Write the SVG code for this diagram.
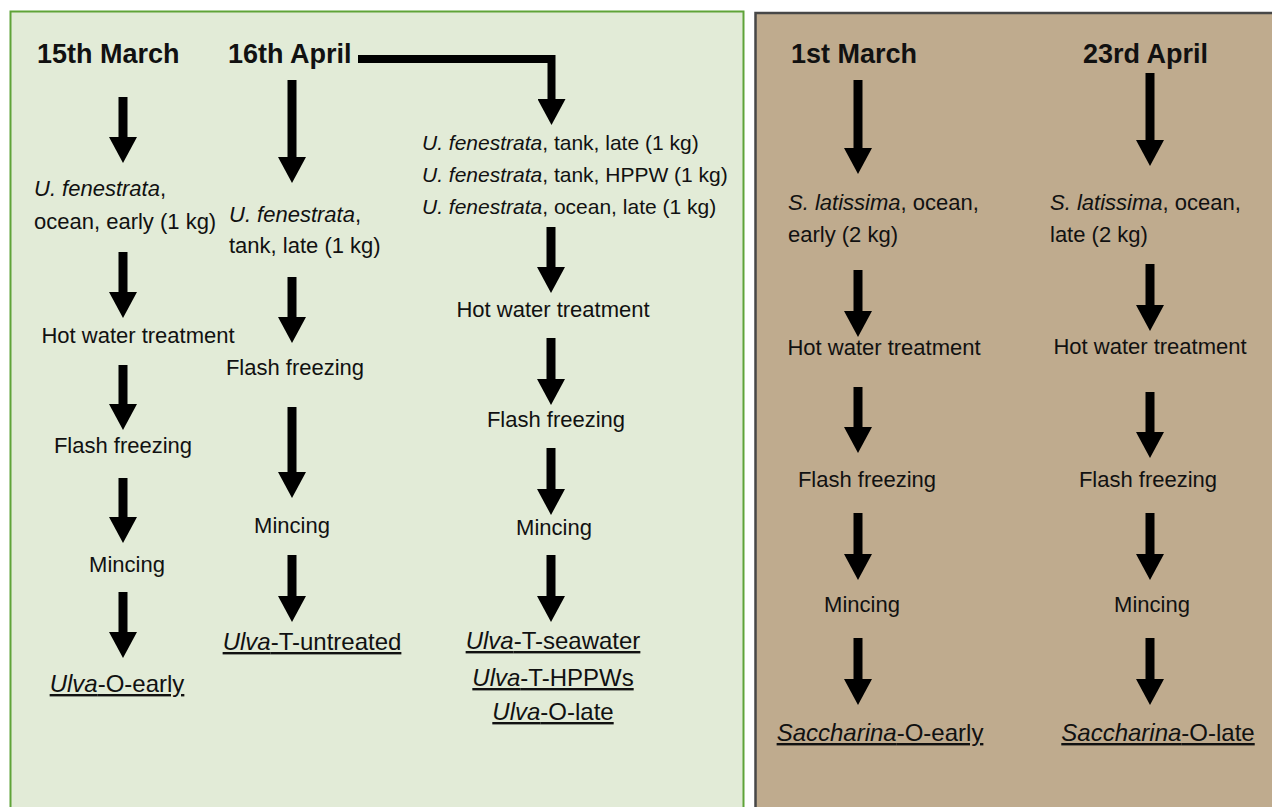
<svg xmlns="http://www.w3.org/2000/svg" width="1272" height="807" viewBox="0 0 1272 807">
<style>
text{font-family:"Liberation Sans",Arial,sans-serif;fill:#111}
.h{font-size:27px;font-weight:bold}
.t{font-size:22px}
.s{font-size:21px}
.r{font-size:24px;text-decoration:underline}
.m{text-anchor:middle}
.i{font-style:italic}
.arr{stroke:#000;stroke-width:9;fill:none;marker-end:url(#head)}
</style>
<defs>
<marker id="head" markerUnits="userSpaceOnUse" viewBox="0 0 26 28" markerWidth="26" markerHeight="28" refX="0" refY="14" orient="auto">
<path d="M0,0 L26,14 L0,28 Z" fill="#000"/>
</marker>
</defs>
<rect width="1272" height="807" fill="#ffffff"/>
<g id="panel-ulva"><rect x="10.5" y="11.5" width="733" height="820" fill="#e2ebd7" stroke="#5fa338" stroke-width="2"/></g>
<g id="panel-saccharina"><rect x="755.5" y="13" width="530" height="820" fill="#bfab8e" stroke="#474747" stroke-width="2.5"/></g>

<g id="connectors">
<line class="arr" x1="123" y1="97" x2="123" y2="137"/>
<line class="arr" x1="123" y1="252" x2="123" y2="292"/>
<line class="arr" x1="123" y1="365" x2="123" y2="404"/>
<line class="arr" x1="123" y1="478" x2="123" y2="517"/>
<line class="arr" x1="123" y1="592" x2="123" y2="632"/>

<line class="arr" x1="292" y1="80" x2="292" y2="157"/>
<line class="arr" x1="292" y1="277" x2="292" y2="317"/>
<line class="arr" x1="292" y1="407" x2="292" y2="472"/>
<line class="arr" x1="292" y1="555" x2="292" y2="596"/>

<path class="arr" d="M358,59 H551.5 V99" stroke-linejoin="miter" style="stroke-width:8"/>
<line class="arr" x1="551" y1="227" x2="551" y2="267"/>
<line class="arr" x1="551" y1="338" x2="551" y2="379"/>
<line class="arr" x1="551" y1="448" x2="551" y2="489"/>
<line class="arr" x1="551" y1="555" x2="551" y2="596"/>

<line class="arr" x1="858" y1="80" x2="858" y2="148"/>
<line class="arr" x1="858" y1="270" x2="858" y2="311"/>
<line class="arr" x1="858" y1="387" x2="858" y2="427"/>
<line class="arr" x1="858" y1="513" x2="858" y2="554"/>
<line class="arr" x1="858" y1="638" x2="858" y2="679"/>

<line class="arr" x1="1150" y1="73" x2="1150" y2="140"/>
<line class="arr" x1="1150" y1="264" x2="1150" y2="305"/>
<line class="arr" x1="1150" y1="392" x2="1150" y2="432"/>
<line class="arr" x1="1150" y1="513" x2="1150" y2="554"/>
<line class="arr" x1="1150" y1="638" x2="1150" y2="679"/>
</g>

<g id="n-15march"><text class="h" x="37" y="63">15th March</text></g>
<g id="n-ulva-ocean-early">
<text class="t" x="34" y="196"><tspan class="i">U. fenestrata</tspan>,</text>
<text class="t" x="34" y="229">ocean, early (1 kg)</text>
</g>
<g id="n-hwt-1"><text class="t m" x="138" y="343">Hot water treatment</text></g>
<g id="n-ff-1"><text class="t m" x="123" y="453">Flash freezing</text></g>
<g id="n-minc-1"><text class="t m" x="127" y="572">Mincing</text></g>
<g id="n-res-1"><text class="r m" x="117" y="692"><tspan class="i">Ulva</tspan>-O-early</text></g>

<g id="n-16april"><text class="h" x="228" y="63">16th April</text></g>
<g id="n-ulva-tank-late">
<text class="t" x="229" y="222"><tspan class="i">U. fenestrata</tspan>,</text>
<text class="t" x="229" y="253">tank, late (1 kg)</text>
</g>
<g id="n-ff-2"><text class="t m" x="295" y="375">Flash freezing</text></g>
<g id="n-minc-2"><text class="t m" x="292" y="533">Mincing</text></g>
<g id="n-res-2"><text class="r m" x="312" y="650"><tspan class="i">Ulva</tspan>-T-untreated</text></g>

<g id="n-ulva-three">
<text class="s" x="422" y="150"><tspan class="i">U. fenestrata</tspan>, tank, late (1 kg)</text>
<text class="s" x="422" y="182"><tspan class="i">U. fenestrata</tspan>, tank, HPPW (1 kg)</text>
<text class="s" x="422" y="214"><tspan class="i">U. fenestrata</tspan>, ocean, late (1 kg)</text>
</g>
<g id="n-hwt-3"><text class="t m" x="553" y="317">Hot water treatment</text></g>
<g id="n-ff-3"><text class="t m" x="556" y="427">Flash freezing</text></g>
<g id="n-minc-3"><text class="t m" x="554" y="535">Mincing</text></g>
<g id="n-res-3">
<text class="r m" x="553" y="649"><tspan class="i">Ulva</tspan>-T-seawater</text>
<text class="r m" x="553" y="686"><tspan class="i">Ulva</tspan>-T-HPPWs</text>
<text class="r m" x="553" y="720"><tspan class="i">Ulva</tspan>-O-late</text>
</g>

<g id="n-1march"><text class="h" x="791" y="63">1st March</text></g>
<g id="n-sacc-early">
<text class="t" x="788" y="210"><tspan class="i">S. latissima</tspan>, ocean,</text>
<text class="t" x="788" y="242">early (2 kg)</text>
</g>
<g id="n-hwt-4"><text class="t m" x="884" y="355">Hot water treatment</text></g>
<g id="n-ff-4"><text class="t m" x="867" y="487">Flash freezing</text></g>
<g id="n-minc-4"><text class="t m" x="862" y="612">Mincing</text></g>
<g id="n-res-4"><text class="r m" x="880" y="741"><tspan class="i">Saccharina</tspan>-O-early</text></g>

<g id="n-23april"><text class="h" x="1083" y="63">23rd April</text></g>
<g id="n-sacc-late">
<text class="t" x="1050" y="210"><tspan class="i">S. latissima</tspan>, ocean,</text>
<text class="t" x="1050" y="242">late (2 kg)</text>
</g>
<g id="n-hwt-5"><text class="t m" x="1150" y="354">Hot water treatment</text></g>
<g id="n-ff-5"><text class="t m" x="1148" y="487">Flash freezing</text></g>
<g id="n-minc-5"><text class="t m" x="1152" y="612">Mincing</text></g>
<g id="n-res-5"><text class="r m" x="1158" y="741"><tspan class="i">Saccharina</tspan>-O-late</text></g>
</svg>
